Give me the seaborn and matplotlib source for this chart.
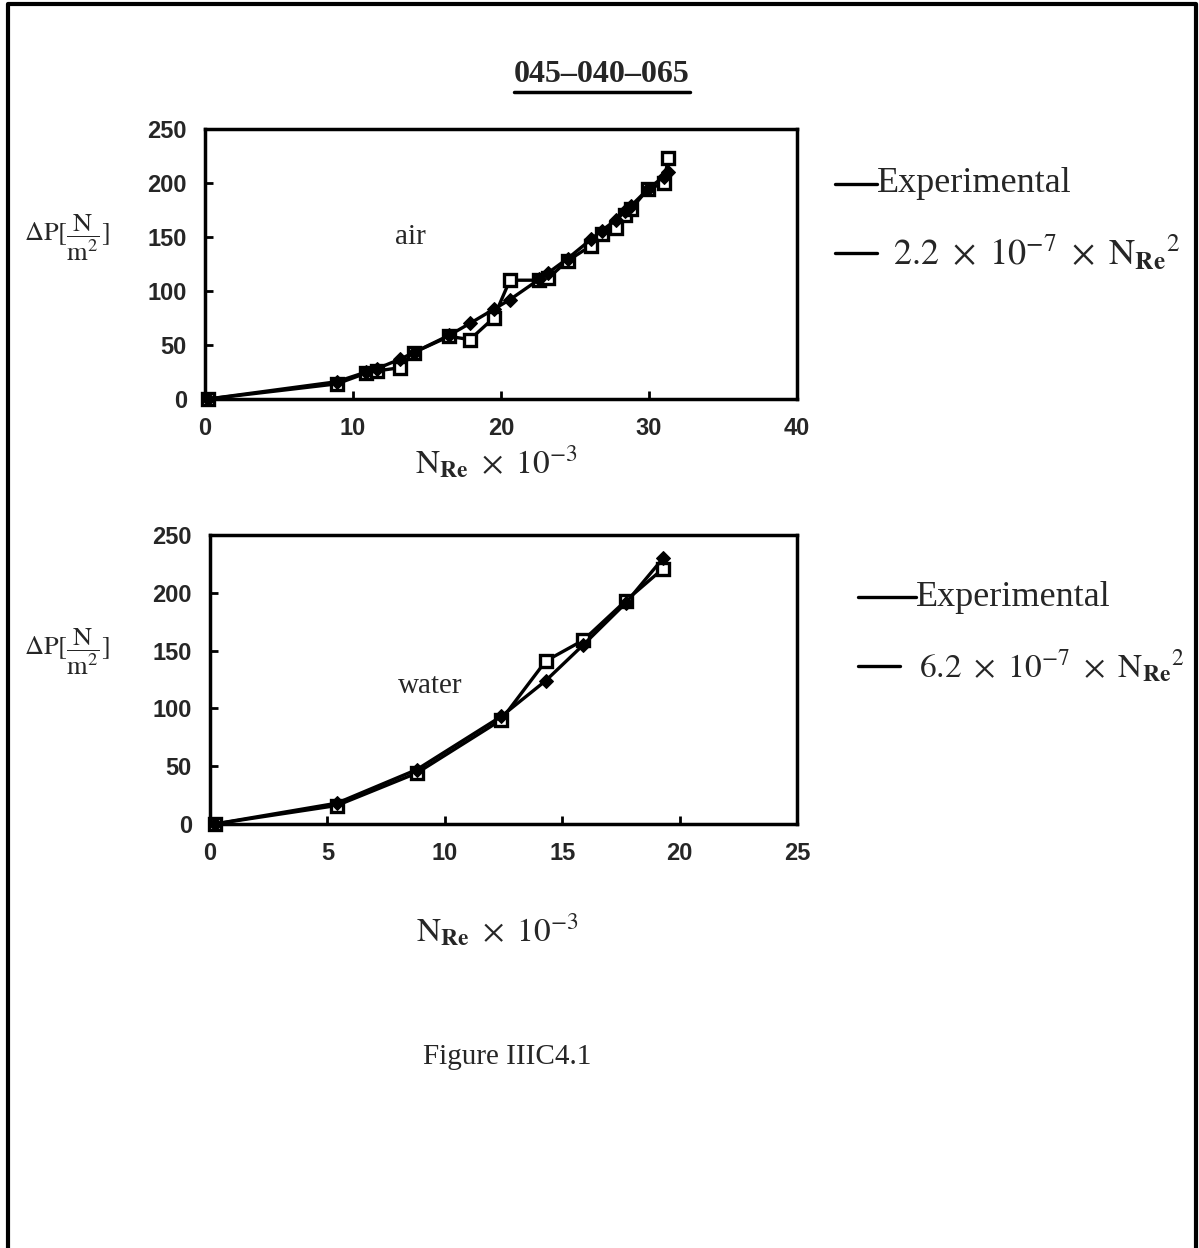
import matplotlib
matplotlib.use("Agg")
import matplotlib.pyplot as plt
from matplotlib.lines import Line2D
import seaborn as sns
import pandas as pd

# Air: Reynolds number (x 10^-3), measured pressure drop and quadratic fit
air_nre = [0.2, 8.9, 10.9, 11.6, 13.2, 14.1, 16.5, 17.9, 19.5, 20.6, 22.6,
           23.2, 24.5, 26.1, 26.8, 27.8, 28.4, 28.8, 29.9, 31.0, 31.3]
air_exp = [0, 14, 24, 26, 29, 43, 58, 55, 75, 110, 110,
           112, 128, 142, 153, 158, 170, 176, 194, 200, 223]
air_fit = [0, 16, 25, 28, 37, 43, 59, 70, 83, 92, 111,
           117, 130, 148, 156, 166, 174, 179, 194, 206, 210]

# Water: Reynolds number (x 10^-3), measured pressure drop and quadratic fit
water_nre = [0.2, 5.4, 8.8, 12.4, 14.3, 15.9, 17.7, 19.3]
water_exp = [0, 16, 44, 90, 141, 159, 193, 221]
water_fit = [0, 18, 47, 93, 124, 155, 191, 230]

air_yticks = [0, 50, 100, 150, 200, 250]
air_xticks = [0, 10, 20, 30, 40]
water_yticks = [0, 50, 100, 150, 200, 250]
water_xticks = [0, 5, 10, 15, 20, 25]

sns.set_theme(style="white")
plt.rcParams["font.family"] = ["Liberation Serif", "DejaVu Serif"]
plt.rcParams["mathtext.fontset"] = "stix"

W, H = 1199, 1248
fig = plt.figure(figsize=(W / 100, H / 100), dpi=100)


def fx(px):
    return px / W


def fy(py):
    return 1 - py / H


def panel(rect, nre, exp, fit, xticks, yticks, tag, tag_xy):
    ax = fig.add_axes(rect)
    df = pd.DataFrame({"nre": nre, "exp": exp, "fit": fit})
    sns.lineplot(data=df, x="nre", y="exp", ax=ax, sort=False, color="black",
                 lw=2.4, marker="s", markersize=9, markerfacecolor="white",
                 markeredgecolor="black", markeredgewidth=2.4)
    sns.lineplot(data=df, x="nre", y="fit", ax=ax, sort=False, color="black",
                 lw=2.4, marker="D", markersize=7, markerfacecolor="black",
                 markeredgecolor="black")
    ax.set_xlim(xticks[0], xticks[-1])
    ax.set_ylim(yticks[0], yticks[-1])
    ax.set_xticks(xticks)
    ax.set_yticks(yticks)
    ax.set_xticklabels([str(t) for t in xticks], family="Liberation Sans",
                       fontweight="bold", fontsize=17)
    ax.set_yticklabels([str(t) for t in yticks], family="Liberation Sans",
                       fontweight="bold", fontsize=17)
    ax.tick_params(direction="in", length=6, width=2, color="black",
                   pad=13, bottom=True, left=True)
    ax.set_xlabel("")
    ax.set_ylabel("")
    for s in ax.spines.values():
        s.set_color("black")
        s.set_linewidth(2.5)
    for ln in ax.lines:
        ln.set_clip_on(False)
    ax.text(tag_xy[0], tag_xy[1], tag, fontsize=21, ha="center", va="center")
    return ax


panel([fx(205), fy(399), fx(797) - fx(205), fy(129) - fy(399)],
      air_nre, air_exp, air_fit, air_xticks, air_yticks, "air", (13.9, 150))
panel([fx(210), fy(824), fx(797) - fx(210), fy(535) - fy(824)],
      water_nre, water_exp, water_fit, water_xticks, water_yticks, "water", (9.4, 119))

dp_label = r"$\Delta\mathrm{P}[\dfrac{\mathrm{N}}{\mathrm{m}^2}]$"
nre_label = r"$\mathrm{N}_{\mathbf{Re}}\ \times\ 10^{-3}$"
fig.text(fx(24), fy(238), dp_label, fontsize=19, ha="left", va="center")
fig.text(fx(24), fy(652), dp_label, fontsize=19, ha="left", va="center")
fig.text(fx(496), fy(462), nre_label, fontsize=24, ha="center", va="center")
fig.text(fx(497), fy(930), nre_label, fontsize=24, ha="center", va="center")


def legend(x0, y_exp, y_fit, exp_len, fit_len, fit_gap, formula, size):
    fig.add_artist(Line2D([fx(x0), fx(x0 + exp_len)], [fy(y_exp), fy(y_exp)],
                          color="black", lw=2.4))
    fig.add_artist(Line2D([fx(x0), fx(x0 + fit_len)], [fy(y_fit), fy(y_fit)],
                          color="black", lw=2.4))
    fig.text(fx(x0 + exp_len), fy(y_exp), "Experimental", fontsize=26,
             ha="left", va="center")
    fig.text(fx(x0 + fit_len + fit_gap), fy(y_fit), formula, fontsize=size,
             ha="left", va="center")


legend(835, 184, 253, 42, 42, 16,
       r"$2.2\ \times\ 10^{-7}\ \times\ \mathrm{N}_{\mathbf{Re}}{}^{2}$", 26)
legend(858, 597, 666, 58, 42, 19,
       r"$6.2\ \times\ 10^{-7}\ \times\ \mathrm{N}_{\mathbf{Re}}{}^{2}$", 24)

title = fig.text(fx(602), fy(74), "045\u2013040\u2013065", fontsize=23,
                 fontweight="bold", ha="center", va="center")
fig.canvas.draw()
bb = title.get_window_extent().transformed(fig.transFigure.inverted())
fig.add_artist(Line2D([bb.x0, bb.x1], [fy(92), fy(92)], color="black", lw=2.5))

fig.text(fx(507), fy(1057), "Figure IIIC4.1", fontsize=21, ha="center", va="center")

# page frame
fig.add_artist(Line2D([fx(8), fx(8), fx(1196), fx(1196)],
                      [0, fy(4), fy(4), 0], color="black", lw=3))

fig.savefig("out.png", dpi=100, facecolor="white")
